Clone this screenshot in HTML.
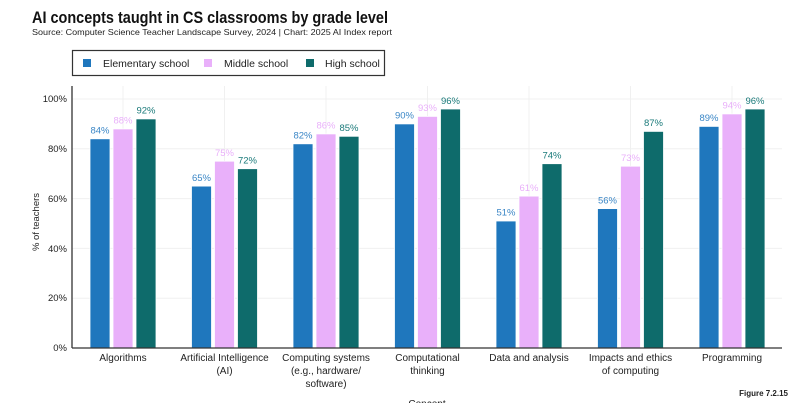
<!DOCTYPE html>
<html><head><meta charset="utf-8"><style>
html,body{margin:0;padding:0;background:#fff;}
body{width:800px;height:403px;overflow:hidden;font-family:"Liberation Sans",sans-serif;}
</style></head><body>
<svg width="800" height="403" viewBox="0 0 800 403" xmlns="http://www.w3.org/2000/svg" font-family="Liberation Sans, sans-serif">
<text x="32" y="23" font-size="17" font-weight="bold" fill="#111" textLength="356" lengthAdjust="spacingAndGlyphs">AI concepts taught in CS classrooms by grade level</text>
<text x="32" y="35" font-size="8.5" fill="#222" textLength="360" lengthAdjust="spacingAndGlyphs">Source: Computer Science Teacher Landscape Survey, 2024 | Chart: 2025 AI Index report</text>
<rect x="72.5" y="50.5" width="312" height="25" fill="#fff" stroke="#333" stroke-width="1.2"/>
<rect x="83" y="59" width="8" height="8" fill="#1f77bd"/>
<text x="103" y="67" font-size="10.5" fill="#222">Elementary school</text>
<rect x="204" y="59" width="8" height="8" fill="#e9b0fa"/>
<text x="224" y="67" font-size="10.5" fill="#222">Middle school</text>
<rect x="306" y="59" width="8" height="8" fill="#0e6b6b"/>
<text x="325" y="67" font-size="10.5" fill="#222">High school</text>
<g stroke="#f0f0f0" stroke-width="1">
<line x1="72" x2="782" y1="99" y2="99"/><line x1="72" x2="782" y1="148.8" y2="148.8"/><line x1="72" x2="782" y1="198.6" y2="198.6"/><line x1="72" x2="782" y1="248.4" y2="248.4"/><line x1="72" x2="782" y1="298.2" y2="298.2"/>
<line x1="123" x2="123" y1="86" y2="348"/><line x1="224.5" x2="224.5" y1="86" y2="348"/><line x1="326" x2="326" y1="86" y2="348"/><line x1="427.5" x2="427.5" y1="86" y2="348"/><line x1="529" x2="529" y1="86" y2="348"/><line x1="630.5" x2="630.5" y1="86" y2="348"/><line x1="732" x2="732" y1="86" y2="348"/>
</g>
<g font-size="9.5" fill="#222" text-anchor="end">
<text x="67" y="102">100%</text><text x="67" y="152">80%</text><text x="67" y="202">60%</text><text x="67" y="252">40%</text><text x="67" y="301">20%</text><text x="67" y="351">0%</text>
</g>
<text transform="translate(39,222) rotate(-90)" font-size="9.5" fill="#222" text-anchor="middle">% of teachers</text>
<g stroke="#fff" stroke-width="0.8">
<rect x="90" y="138.8" width="20" height="209.2" fill="#1f77bd"/><rect x="113" y="128.9" width="20" height="219.1" fill="#e9b0fa"/><rect x="136" y="118.9" width="20" height="229.1" fill="#0e6b6b"/>
<rect x="191.5" y="186.1" width="20" height="161.9" fill="#1f77bd"/><rect x="214.5" y="161.2" width="20" height="186.8" fill="#e9b0fa"/><rect x="237.5" y="168.7" width="20" height="179.3" fill="#0e6b6b"/>
<rect x="293" y="143.8" width="20" height="204.2" fill="#1f77bd"/><rect x="316" y="133.9" width="20" height="214.1" fill="#e9b0fa"/><rect x="339" y="136.3" width="20" height="211.7" fill="#0e6b6b"/>
<rect x="394.5" y="123.9" width="20" height="224.1" fill="#1f77bd"/><rect x="417.5" y="116.4" width="20" height="231.6" fill="#e9b0fa"/><rect x="440.5" y="109" width="20" height="239" fill="#0e6b6b"/>
<rect x="496" y="221" width="20" height="127" fill="#1f77bd"/><rect x="519" y="196.1" width="20" height="151.9" fill="#e9b0fa"/><rect x="542" y="163.7" width="20" height="184.3" fill="#0e6b6b"/>
<rect x="597.5" y="208.6" width="20" height="139.4" fill="#1f77bd"/><rect x="620.5" y="166.2" width="20" height="181.8" fill="#e9b0fa"/><rect x="643.5" y="131.4" width="20" height="216.6" fill="#0e6b6b"/>
<rect x="699" y="126.4" width="20" height="221.6" fill="#1f77bd"/><rect x="722" y="113.9" width="20" height="234.1" fill="#e9b0fa"/><rect x="745" y="109" width="20" height="239" fill="#0e6b6b"/>
</g>
<g font-size="9.5" text-anchor="middle">
<g fill="#3a86c6">
<text x="100" y="133.5">84%</text><text x="201.5" y="181">65%</text><text x="303" y="138.5">82%</text><text x="404.5" y="118.5">90%</text><text x="506" y="215.5">51%</text><text x="607.5" y="203.5">56%</text><text x="709" y="121">89%</text>
</g>
<g fill="#e9b0fa">
<text x="123" y="123.5">88%</text><text x="224.5" y="156">75%</text><text x="326" y="128.5">86%</text><text x="427.5" y="111">93%</text><text x="529" y="191">61%</text><text x="630.5" y="161">73%</text><text x="732" y="108.5">94%</text>
</g>
<g fill="#1a7a7a">
<text x="146" y="113.5">92%</text><text x="247.5" y="163.5">72%</text><text x="349" y="131">85%</text><text x="450.5" y="104">96%</text><text x="552" y="158.5">74%</text><text x="653.5" y="126">87%</text><text x="755" y="104">96%</text>
</g>
</g>
<line x1="72" x2="72" y1="86" y2="348" stroke="#333" stroke-width="1.3"/>
<line x1="72" x2="782" y1="348" y2="348" stroke="#333" stroke-width="1.3"/>
<g font-size="10" fill="#222" text-anchor="middle">
<text x="123" y="361">Algorithms</text>
<text x="224.5" y="361">Artificial Intelligence</text><text x="224.5" y="374">(AI)</text>
<text x="326" y="361">Computing systems</text><text x="326" y="374">(e.g., hardware/</text><text x="326" y="387">software)</text>
<text x="427.5" y="361">Computational</text><text x="427.5" y="374">thinking</text>
<text x="529" y="361">Data and analysis</text>
<text x="630.5" y="361">Impacts and ethics</text><text x="630.5" y="374">of computing</text>
<text x="732" y="361">Programming</text>
<text x="427" y="407">Concept</text>
</g>
<text x="788" y="396" font-size="8" font-weight="bold" fill="#222" text-anchor="end">Figure 7.2.15</text>
</svg>
</body></html>
